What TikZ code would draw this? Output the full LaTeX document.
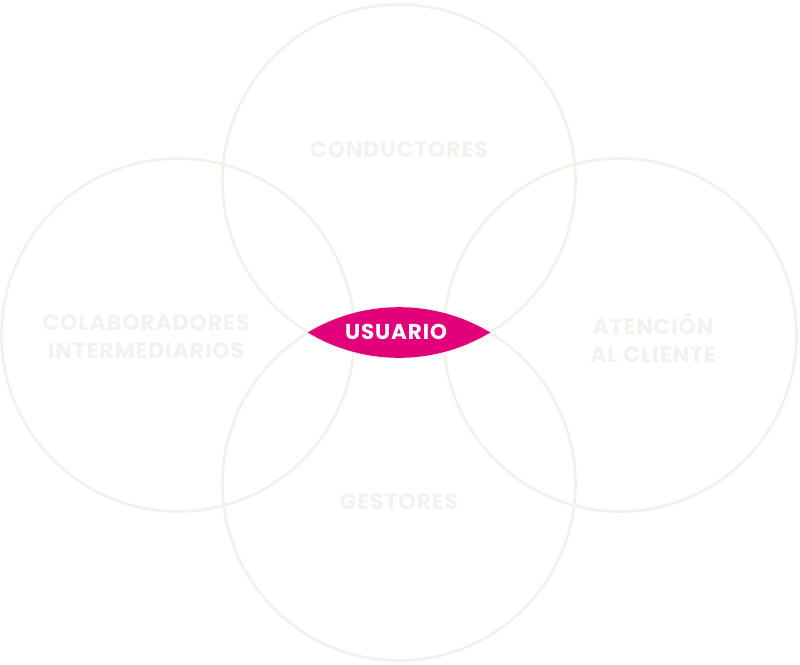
\documentclass[tikz,border=0pt]{standalone}
\usepackage{fontspec}
\setmainfont{Poppins}[UprightFont=*-Regular,BoldFont=*-Bold]
\newfontfamily\lblfont{Poppins}[UprightFont=*-Bold,LetterSpace=4]
\definecolor{ringgray}{HTML}{F2F1EC}
\definecolor{lblgray}{HTML}{F3F2EE}
\definecolor{usupink}{HTML}{E2007A}
\begin{document}
\begin{tikzpicture}[x=1pt,y=-1pt,
  ring/.style={circle,draw=ringgray,line width=2.6pt,minimum size=353pt,inner sep=0pt},
  lbl/.style={text=lblgray,font=\lblfont\fontsize{22}{28}\selectfont,align=center,inner sep=0pt},
  usulbl/.style={text=white,font=\lblfont\fontsize{21.5}{28}\selectfont,inner sep=0pt}]
\useasboundingbox (0,0) rectangle (800,664);
\fill[white] (0,0) rectangle (800,664);
\node[ring] (ctop) at (399,181) {};
\node[ring] (cbot) at (399,484) {};
\node[ring] (cleft) at (178,335) {};
\node[ring] (cright) at (620,335) {};
\begin{scope}
  \clip (399,181) circle (176.8);
  \fill[usupink] (399,484) circle (176.8);
\end{scope}
\node[lbl] (tcond) at (399,150) {CONDUCTORES};
\node[lbl] (tcolab) at (146,337) {COLABORADORES\\INTERMEDIARIOS};
\node[lbl] (taten) at (653,338) {ATENCIÓN\\AL CLIENTE};
\node[lbl] (tgest) at (399,502) {GESTORES};
\node[usulbl] (tusu) at (396,332) {USUARIO};
\end{tikzpicture}
\end{document}
